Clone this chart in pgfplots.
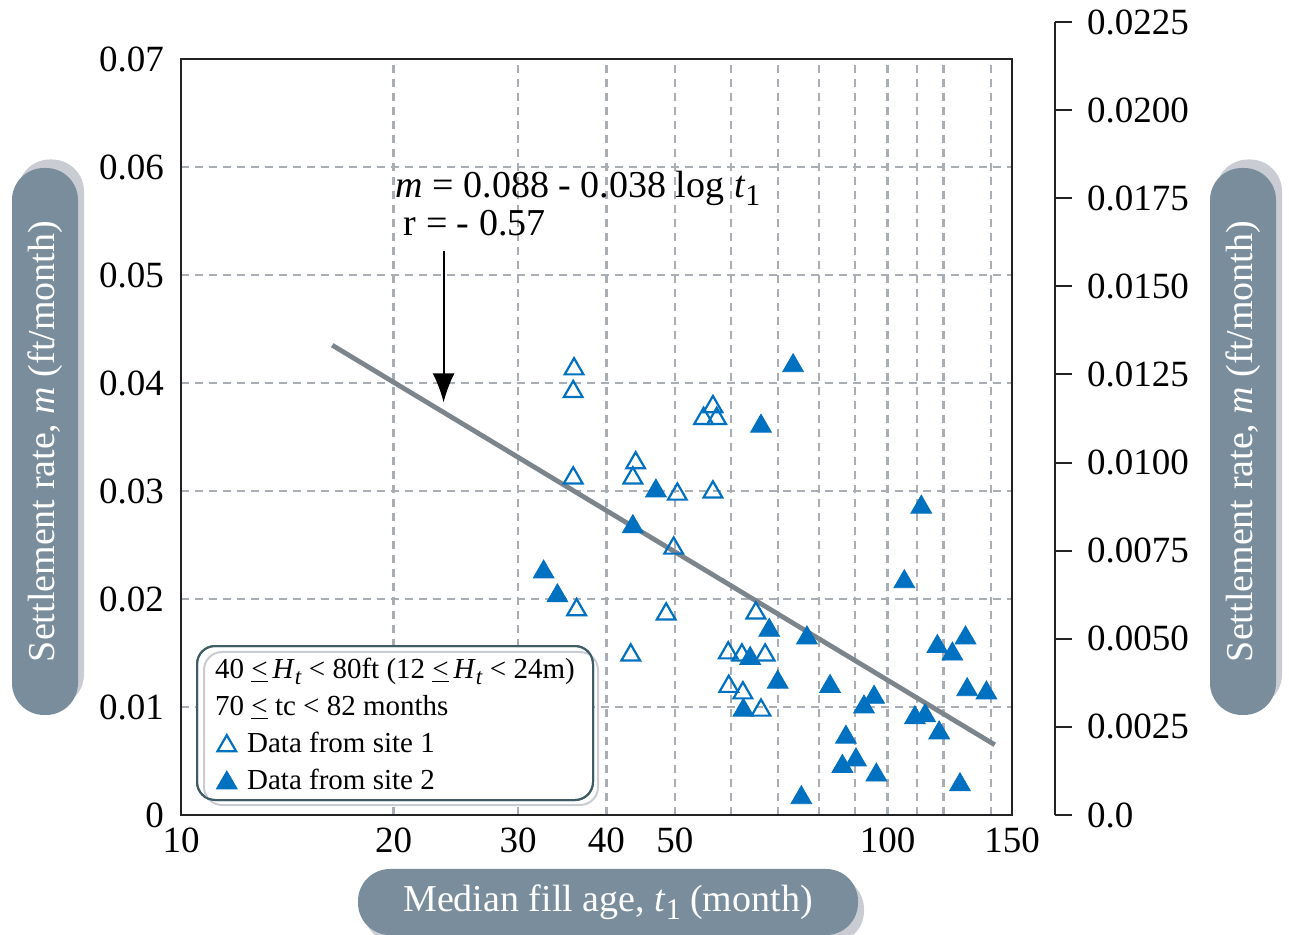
\documentclass[border=0pt]{standalone}
\usepackage{fontspec}
\setmainfont{Liberation Serif}
\usepackage{pgfplots}
\pgfplotsset{compat=1.18}
\usetikzlibrary{arrows.meta}
\definecolor{ptblue}{HTML}{0070C0}
\definecolor{boxfill}{HTML}{7A8D9C}
\definecolor{boxshadow}{HTML}{C9CDD3}
\definecolor{gridc}{HTML}{A9AEB4}
\definecolor{fitline}{HTML}{7D858C}
\definecolor{legframe}{HTML}{3E5C66}
\definecolor{spine}{HTML}{222222}
\begin{document}
\begin{tikzpicture}
\path[use as bounding box] (0,0) rectangle (644.5pt,467.5pt);
% ---------- right axis ----------
\begin{axis}[
  at={(527.5pt,60pt)}, anchor=south east,
  scale only axis, width=5pt, height=396.5pt,
  xmin=0, xmax=1, ymin=0, ymax=0.0225,
  hide x axis, axis y line*=right,
  scaled y ticks=false,
  ytick={0,0.0025,0.005,0.0075,0.01,0.0125,0.015,0.0175,0.02,0.0225},
  yticklabels={0.0,0.0025,0.0050,0.0075,0.0100,0.0125,0.0150,0.0175,0.0200,0.0225},
  tick align=outside, major tick length=8.5pt,
  axis line style={spine, line width=1pt},
  ytick style={spine, line width=1pt},
  tick label style={font=\fontsize{18.5}{20}\selectfont},
  yticklabel style={xshift=4pt},
]
\addplot[draw=none, forget plot] coordinates {(0.5,0.01)};
\end{axis}
% ---------- main axis ----------
\begin{axis}[
  at={(90.5pt,60pt)}, anchor=south west,
  scale only axis, width=415.5pt, height=378pt,
  xmode=log, log basis x=10,
  xmin=10, xmax=150, ymin=0, ymax=0.07,
  scaled y ticks=false,
  xtick={10,20,30,40,50,100,150},
  xticklabels={10,20,30,40,50,100,150},
  minor xtick={60,70,80,90,110,120,140},
  ytick={0,0.01,0.02,0.03,0.04,0.05,0.06,0.07},
  yticklabels={0,0.01,0.02,0.03,0.04,0.05,0.06,0.07},
  grid=both,
  major grid style={gridc, dash pattern=on 4pt off 3pt, line width=1.2pt},
  minor grid style={gridc, dash pattern=on 4pt off 3pt, line width=1.2pt},
  axis line style={spine, line width=1.4pt},
  xtick pos=lower, tick align=inside,
  major tick length=4pt, minor tick length=4pt,
  xtick style={gridc, line width=1.2pt},
  ytick style={draw=none},
  tick label style={font=\fontsize{18.5}{20}\selectfont},
  yticklabel style={xshift=-5pt},
  xticklabel style={yshift=-3pt},
  /pgf/number format/assume math mode=true,
  clip=false,
  legend style={at={(0.0421,0.2143)}, anchor=north west, draw=none, fill=none,
    inner sep=0pt, row sep=0pt, column sep=4pt,
    font=\fontsize{14.5}{16}\selectfont,
    nodes={inner sep=1pt, text height=11.5pt, text depth=5pt}},
  legend cell align=left,
]
% legend frame
\draw[legframe, line width=1pt, fill=white, rounded corners=9pt]
  (axis description cs:0.0193,0.0198) rectangle (axis description cs:0.4958,0.2235);
\draw[boxshadow, line width=1pt, rounded corners=9pt]
  (axis description cs:0.0277,0.0132) rectangle (axis description cs:0.5018,0.2156);
\draw[legframe, line width=1pt, rounded corners=9pt]
  (axis description cs:0.0193,0.0198) rectangle (axis description cs:0.4958,0.2235);

\addlegendimage{empty legend}
\addlegendentry{\hspace*{-16pt}40 \underline{<}\,\textit{H}\raisebox{-0.45ex}{\textit{\fontsize{11.5}{11.5}\selectfont t}} < 80ft (12 \underline{<}\,\textit{H}\raisebox{-0.45ex}{\textit{\fontsize{11.5}{11.5}\selectfont t}} < 24m)}
\addlegendimage{empty legend}
\addlegendentry{\hspace*{-16pt}70 \underline{<} tc < 82 months}

% regression line
\addplot[fitline, line width=2.4pt, forget plot] coordinates {(16.37,0.0435) (141.8,0.0065)};

% site 1
\addplot[only marks, mark=triangle, mark size=5.4pt, ptblue,
  mark options={line width=1.1pt, fill=white},
  legend image code/.code={\draw[mark repeat=2,mark phase=2] plot coordinates {(0pt,0pt)(5pt,0pt)(10pt,0pt)};}]
  coordinates {
  (36.0,0.0413) (35.9,0.0392) (35.9,0.0312) (36.3,0.0190)
  (44.0,0.0326) (43.6,0.0312) (43.3,0.0148)
  (50.4,0.0297) (49.8,0.0247) (48.6,0.0186)
  (56.6,0.0378) (54.9,0.0367) (57.3,0.0367) (56.6,0.0299)
  (59.5,0.0150) (59.6,0.0119) (62.2,0.0148) (62.4,0.0113)
  (65.1,0.0187) (67.1,0.0148) (66.2,0.0097)
  };
\addlegendentry{Data from site 1}

% site 2
\addplot[only marks, mark=triangle*, mark size=6pt, ptblue,
  mark options={fill=ptblue, draw=ptblue, line width=0.4pt},
  legend image code/.code={\draw[mark repeat=2,mark phase=2] plot coordinates {(0pt,0pt)(5pt,0pt)(10pt,0pt)};}]
  coordinates {
  (32.6,0.0225) (34.1,0.0203) (43.6,0.0267) (47.0,0.0300)
  (66.2,0.0360) (73.5,0.0416) (62.5,0.0097) (63.9,0.0145)
  (68.0,0.0171) (69.9,0.0123) (75.5,0.0016) (76.9,0.0164)
  (82.9,0.0119) (87.3,0.0072) (86.3,0.0045) (90.2,0.0051)
  (92.6,0.0100) (95.7,0.0109) (96.4,0.0037) (105.6,0.0216)
  (111.6,0.0285) (109.3,0.0090) (113.0,0.0092) (117.6,0.0156)
  (123.5,0.0149) (118.3,0.0076) (128.9,0.0164) (129.6,0.0116)
  (126.6,0.0028) (138.0,0.0113)
  };
\addlegendentry{Data from site 2}

% annotation
\draw[black, line width=1pt, -{Latex[length=14.5pt,width=11pt]}]
  (axis cs:23.53,0.0522) -- (axis cs:23.53,0.0382);
\node[anchor=base west, font=\fontsize{19}{21}\selectfont, inner sep=0pt]
  at (axis cs:20.12,0.05713) {\textit{m} = 0.088 - 0.038 log \textit{t}\raisebox{-0.45ex}{\fontsize{15}{15}\selectfont 1}};
\node[anchor=base west, font=\fontsize{19}{21}\selectfont, inner sep=0pt]
  at (axis cs:20.65,0.0537) {r = - 0.57};
\end{axis}
% ---------- label boxes ----------
\begin{scope}[x=0.5pt,y=0.5pt]
\tikzset{lbl/.style={rounded corners=16pt, inner sep=0pt, minimum height=33pt,
  text=white, font=\fontsize{19}{21}\selectfont}}
% left
\node[lbl, rotate=90, fill=boxshadow, minimum width=273.5pt] at (51,502) {};
\node[lbl, rotate=90, fill=boxfill, minimum width=273.5pt] at (45,493.5)
  {Settlement rate, \textit{m} (ft/month)};
% right
\node[lbl, rotate=90, fill=boxshadow, minimum width=273.5pt] at (1249,502) {};
\node[lbl, rotate=90, fill=boxfill, minimum width=273.5pt] at (1243,493.5)
  {Settlement rate, \textit{m} (ft/month)};
% bottom
\node[lbl, fill=boxshadow, minimum width=250pt] at (614,25) {};
\node[lbl, fill=boxfill, minimum width=250pt] at (608,33)
  {Median fill age, \textit{t}\raisebox{-0.45ex}{\fontsize{15}{15}\selectfont 1} (month)};
\end{scope}
\end{tikzpicture}
\end{document}
